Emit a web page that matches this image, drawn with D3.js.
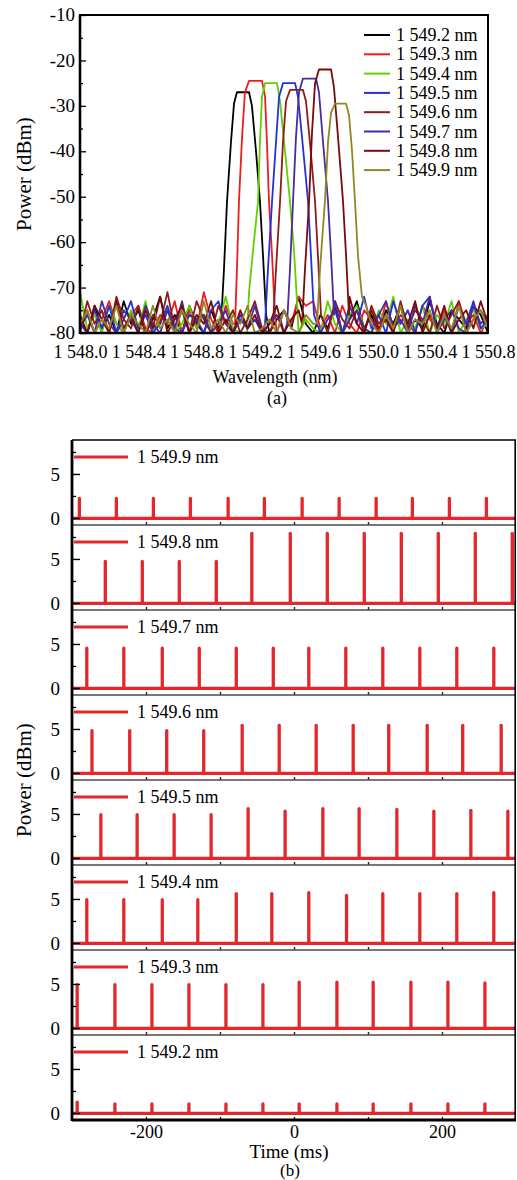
<!DOCTYPE html>
<html><head><meta charset="utf-8">
<script src="https://cdn.jsdelivr.net/npm/d3@7"></script>
<style>
html,body{margin:0;padding:0;background:#fff;}
svg text{font-family:"Liberation Serif","Times New Roman",serif;fill:#000;}
</style></head><body>
<svg id="c" width="517" height="1180"></svg>
<script>
// ---------- (a) spectra data ----------
const seriesNames = ["1 549.2 nm","1 549.3 nm","1 549.4 nm","1 549.5 nm","1 549.6 nm","1 549.7 nm","1 549.8 nm","1 549.9 nm"];
const xTickValues = [1548.0,1548.4,1548.8,1549.2,1549.6,1550.0,1550.4,1550.8];
const yTickValues = [-80,-70,-60,-50,-40,-30,-20,-10];

// peak shapes [wavelength nm, power dBm]
const peak92 = [[1548.968,-78],[1548.988,-66],[1549.009,-51],[1549.036,-38],[1549.057,-29.5],[1549.077,-27],[1549.160,-27],[1549.180,-30],[1549.208,-40],[1549.235,-51],[1549.256,-63],[1549.277,-76]];
const peak93 = [[1549.064,-78],[1549.077,-66],[1549.091,-51],[1549.112,-37],[1549.132,-27],[1549.160,-24.5],[1549.249,-24.5],[1549.270,-28],[1549.283,-38],[1549.297,-51],[1549.318,-63],[1549.338,-76]];
const peak94 = [[1549.146,-80],[1549.160,-71],[1549.187,-62],[1549.222,-51],[1549.235,-38],[1549.249,-28],[1549.270,-25],[1549.352,-25],[1549.373,-29],[1549.407,-40],[1549.441,-51],[1549.469,-62],[1549.489,-73]];
const peak95 = [[1549.270,-78],[1549.290,-66],[1549.318,-51],[1549.345,-38],[1549.366,-28],[1549.393,-25],[1549.476,-25],[1549.496,-28],[1549.524,-37],[1549.565,-51],[1549.585,-63],[1549.606,-76]];
const peak96 = [[1549.325,-78],[1549.345,-66],[1549.373,-51],[1549.393,-38],[1549.414,-29],[1549.441,-26.5],[1549.530,-26.5],[1549.551,-29],[1549.578,-38],[1549.613,-51],[1549.633,-63],[1549.654,-76]];
const peak97 = [[1549.421,-78],[1549.441,-66],[1549.462,-51],[1549.482,-37],[1549.503,-27],[1549.530,-24],[1549.620,-24],[1549.640,-27],[1549.668,-38],[1549.702,-51],[1549.723,-63],[1549.743,-76]];
const peak98 = [[1549.524,-78],[1549.544,-66],[1549.572,-51],[1549.592,-36],[1549.613,-25],[1549.640,-22],[1549.723,-22],[1549.743,-26],[1549.771,-37],[1549.805,-51],[1549.826,-63],[1549.846,-76]];
const peak99 = [[1549.627,-78],[1549.647,-66],[1549.681,-51],[1549.702,-38],[1549.723,-31.5],[1549.750,-29.5],[1549.826,-29.5],[1549.846,-32],[1549.867,-40],[1549.887,-51],[1549.908,-63],[1549.935,-72],[1549.963,-74]];

// noise floor readings, sampled every 0.05 nm from 1548.00 nm
const noise92 = [-77,-80,-74,-79,-76,-80,-73,-78,-75,-80,-77,-72,-79,-76,-80,-74,-78,-80,-75,-79,-73,-77,-80,-76,-78,-74,-80,-77,-75,-79,-72,-78,-80,-76,-79,-74,-80,-77,-73,-79,-76,-80,-75,-78,-74,-80,-77,-79,-73,-78,-80,-75,-77,-79,-74,-76,-80];
const noise93 = [-79,-75,-80,-77,-73,-78,-80,-76,-74,-79,-80,-76,-78,-73,-80,-75,-79,-71,-77,-80,-74,-78,-76,-80,-73,-79,-77,-80,-75,-78,-72,-74,-73,-79,-76,-80,-74,-78,-80,-75,-77,-80,-73,-79,-76,-78,-80,-74,-77,-79,-75,-80,-73,-78,-76,-80,-77];
const noise94 = [-71,-79,-76,-80,-74,-78,-80,-75,-79,-73,-80,-77,-75,-80,-78,-74,-79,-76,-80,-78,-72,-79,-80,-76,-78,-80,-77,-79,-80,-78,-80,-77,-79,-80,-73,-78,-80,-76,-74,-79,-80,-75,-78,-72,-80,-77,-79,-74,-80,-76,-78,-73,-80,-77,-75,-79,-78];
const noise95 = [-78,-80,-75,-79,-74,-80,-77,-73,-79,-76,-80,-78,-74,-79,-80,-76,-77,-80,-75,-73,-78,-80,-76,-79,-77,-80,-75,-78,-74,-80,-76,-79,-73,-80,-77,-75,-80,-74,-78,-72,-79,-76,-80,-73,-78,-75,-80,-74,-72,-79,-76,-80,-74,-78,-73,-79,-77];
const noise96 = [-80,-73,-78,-75,-80,-72,-77,-79,-74,-80,-76,-78,-71,-79,-75,-80,-73,-77,-80,-74,-78,-75,-80,-77,-73,-79,-80,-76,-78,-80,-75,-79,-74,-78,-80,-73,-77,-79,-75,-80,-74,-78,-76,-80,-73,-79,-75,-77,-80,-74,-79,-76,-73,-80,-77,-75,-78];
const noise97 = [-79,-76,-80,-73,-78,-80,-75,-77,-80,-74,-78,-80,-75,-79,-73,-80,-77,-76,-80,-78,-75,-80,-77,-79,-74,-80,-78,-76,-80,-77,-79,-74,-80,-76,-78,-73,-80,-77,-75,-79,-80,-76,-73,-79,-77,-80,-74,-78,-72,-80,-77,-75,-79,-80,-74,-78,-76];
const noise98 = [-76,-80,-74,-77,-80,-73,-79,-76,-80,-75,-79,-72,-80,-77,-74,-80,-76,-78,-73,-80,-77,-80,-75,-79,-76,-80,-78,-74,-80,-77,-75,-80,-78,-74,-79,-80,-76,-72,-78,-80,-75,-79,-77,-80,-74,-78,-73,-80,-76,-79,-74,-80,-77,-75,-79,-73,-78];
const noise99 = [-78,-75,-80,-77,-79,-74,-80,-76,-78,-80,-74,-79,-77,-80,-75,-78,-80,-73,-79,-77,-80,-76,-78,-74,-80,-79,-77,-80,-75,-79,-80,-76,-78,-80,-74,-79,-77,-80,-75,-73,-78,-80,-76,-79,-74,-80,-77,-78,-75,-80,-76,-79,-74,-80,-77,-75,-79];

const peaks = [peak92,peak93,peak94,peak95,peak96,peak97,peak98,peak99];
const noises = [noise92,noise93,noise94,noise95,noise96,noise97,noise98,noise99];
const seriesColors = ["#000000","#f01c1c","#5fd000","#2430d8","#8e1c1c","#4a2a9c","#7a0a0a","#908726"];

// ---------- (b) pulse trains, top panel first ----------
const panelNames = ["1 549.9 nm","1 549.8 nm","1 549.7 nm","1 549.6 nm","1 549.5 nm","1 549.4 nm","1 549.3 nm","1 549.2 nm"];
const times99 = [-290,-240,-190,-140,-89,-40,11,61,111,160,210,260];
const heights99 = [2.4,2.4,2.4,2.4,2.4,2.4,2.4,2.4,2.4,2.4,2.4,2.4];
const times98 = [-255,-205,-155,-105,-57,-5,45,95,145,195,245,295];
const heights98 = [4.9,4.9,4.9,4.9,8.1,8.1,8.1,8.1,8.1,8.1,8.1,8.1];
const times97 = [-280,-230,-178,-128,-78,-28,20,70,120,170,220,270];
const heights97 = [4.7,4.7,4.7,4.7,4.7,4.7,4.7,4.7,4.7,4.7,4.7,4.7];
const times96 = [-273,-222,-172,-122,-70,-20,30,80,128,180,228,280];
const heights96 = [5.0,5.0,5.0,5.0,5.6,5.6,5.6,5.6,5.6,5.6,5.6,5.6];
const times95 = [-261,-212,-162,-112,-62,-12,39,88,139,189,239,289];
const heights95 = [5.1,5.1,5.1,5.1,5.8,5.5,5.8,5.8,5.7,5.5,5.6,5.5];
const times94 = [-280,-230,-178,-130,-78,-30,20,71,120,170,220,270];
const heights94 = [5.1,5.1,5.1,5.1,5.8,5.8,5.9,5.6,5.8,5.8,5.8,5.9];
const times93 = [-293,-242,-192,-142,-92,-42,7,58,107,158,208,258];
const heights93 = [5.1,5.1,5.1,5.1,5.1,5.1,5.4,5.4,5.4,5.4,5.4,5.3];
const times92 = [-293,-242,-192,-142,-92,-42,7,58,107,158,208,258];
const heights92 = [1.4,1.2,1.2,1.2,1.2,1.2,1.2,1.2,1.2,1.2,1.2,1.2];
const panelTimes = [times99,times98,times97,times96,times95,times94,times93,times92];
const panelHeights = [heights99,heights98,heights97,heights96,heights95,heights94,heights93,heights92];
const timeTicks = [-200,0,200];
const timeMinorTicks = [-200,-100,0,100,200];
const panelTicks = [0,5];
const panelMinorTicks = [2.5,7.5];

// ================= drawing =================
const svg = d3.select("#c");
const FONT = 18;
const SERIF = "'Liberation Serif','Times New Roman',serif";
const loc = d3.formatLocale({decimal:".",thousands:" ",grouping:[3],currency:["",""],minus:"-"});
const fmtWl = loc.format(",.1f");
const fmtInt = loc.format("d");

// ---- panel (a) ----
const A = {l:80, t:15, r:488, b:333};
const xA = d3.scaleLinear().domain([1548.0,1550.8]).range([A.l,A.r]);
const yA = d3.scaleLinear().domain([-80,-10]).range([A.b,A.t]);

svg.append("clipPath").attr("id","clipA").append("rect")
  .attr("x",A.l).attr("y",A.t).attr("width",A.r-A.l).attr("height",A.b-A.t);

const lineA = d3.line().x(d=>xA(d[0])).y(d=>yA(d[1]));
const gA = svg.append("g").attr("clip-path","url(#clipA)");
peaks.forEach((pk,s)=>{
  const lo = pk[0][0], hi = pk[pk.length-1][0];
  const nz = noises[s].map((v,i)=>[1548.0+i*0.05, v]).filter(p=>p[0]<lo||p[0]>hi);
  const pts = nz.concat(pk).sort((a,b)=>a[0]-b[0]);
  gA.append("path").attr("d",lineA(pts)).attr("fill","none")
    .attr("stroke",seriesColors[s]).attr("stroke-width",1.8)
    .attr("stroke-linejoin","round");
});

function styleAxis(g, fs){
  g.select(".domain").remove();
  g.selectAll("line").attr("stroke","#000").attr("stroke-width",1.3);
  g.selectAll("text").style("font-size",fs+"px").style("font-family",SERIF).attr("fill","#000");
}

// axes (a)
const axLA = svg.append("g").attr("transform",`translate(${A.l},0)`)
  .call(d3.axisLeft(yA).tickValues(yTickValues).tickSize(-6).tickPadding(5).tickFormat(fmtInt));
const axLAm = svg.append("g").attr("transform",`translate(${A.l},0)`)
  .call(d3.axisLeft(yA).tickValues(d3.range(-75,-10,10)).tickSize(-3).tickFormat(""));
const axBA = svg.append("g").attr("transform",`translate(0,${A.b})`)
  .call(d3.axisBottom(xA).tickValues(xTickValues).tickSize(0).tickPadding(12).tickFormat(d=>fmtWl(d)));
styleAxis(axLA,19); styleAxis(axLAm,19); styleAxis(axBA,18);
axLA.selectAll("text").attr("dy","0.3em");
svg.append("rect").attr("x",A.l).attr("y",A.t).attr("width",A.r-A.l).attr("height",A.b-A.t)
  .attr("fill","none").attr("stroke","#000").attr("stroke-width",2);
svg.append("line").attr("x1",A.l).attr("x2",A.l).attr("y1",A.t).attr("y2",A.b+1).attr("stroke","#000").attr("stroke-width",2.6);
svg.append("line").attr("x1",A.l).attr("x2",A.r).attr("y1",A.b).attr("y2",A.b).attr("stroke","#000").attr("stroke-width",2.6);

// legend (a)
seriesNames.forEach((n,i)=>{
  const yy = 35 + i*19.3;
  svg.append("line").attr("x1",364).attr("x2",390).attr("y1",yy).attr("y2",yy)
    .attr("stroke",seriesColors[i]).attr("stroke-width",2);
  svg.append("text").attr("x",396).attr("y",yy+6).style("font-size",FONT+"px").text(n);
});

// titles (a)
svg.append("text").attr("transform","translate(31,174) rotate(-90)").attr("text-anchor","middle")
  .style("font-size","21px").text("Power (dBm)");
svg.append("text").attr("x",275).attr("y",383).attr("text-anchor","middle")
  .style("font-size",FONT+"px").text("Wavelength (nm)");
svg.append("text").attr("x",277).attr("y",404).attr("text-anchor","middle")
  .style("font-size",FONT+"px").text("(a)");

// ---- panel (b) ----
const B = {l:72, r:516, t:440, h:85};
const xB = d3.scaleLinear().domain([-300,300]).range([B.l,B.r]);
const RED = "#e3272a";
svg.append("clipPath").attr("id","clipB").append("rect")
  .attr("x",B.l).attr("y",B.t).attr("width",B.r-B.l).attr("height",B.h*8);
const gB = svg.append("g").attr("clip-path","url(#clipB)");

panelNames.forEach((name,i)=>{
  const top = B.t + i*B.h;
  const yB = d3.scaleLinear().domain([-0.8,8.86]).range([top+B.h, top]);
  if(i>0) svg.append("line").attr("x1",B.l).attr("x2",B.r).attr("y1",top).attr("y2",top)
    .attr("stroke","#4a4a4a").attr("stroke-width",1.3);
  gB.append("line").attr("x1",xB(-300)).attr("x2",xB(300)).attr("y1",yB(-0.05)).attr("y2",yB(-0.05))
    .attr("stroke",RED).attr("stroke-width",3.4);
  panelTimes[i].forEach((t,k)=>{
    gB.append("line").attr("x1",xB(t)).attr("x2",xB(t))
      .attr("y1",yB(0)).attr("y2",yB(panelHeights[i][k])+1.6)
      .attr("stroke",RED).attr("stroke-width",3.3).attr("stroke-linecap","round");
  });
  const axm = svg.append("g").attr("transform",`translate(0,${top+B.h})`)
    .call(d3.axisBottom(xB).tickValues(timeMinorTicks).tickSize(-3).tickFormat(""));
  axm.select(".domain").remove();
  axm.selectAll("line").attr("stroke","#222").attr("stroke-width",1.4);
  const axl = svg.append("g").attr("transform",`translate(${B.l},0)`)
    .call(d3.axisLeft(yB).tickValues(panelTicks).tickSize(-8).tickPadding(12).tickFormat(fmtInt));
  const axlm = svg.append("g").attr("transform",`translate(${B.l},0)`)
    .call(d3.axisLeft(yB).tickValues(panelMinorTicks).tickSize(-4).tickFormat(""));
  styleAxis(axl,19); styleAxis(axlm,19);
  axl.selectAll("line").attr("stroke-width",1.4);
  svg.append("line").attr("x1",74).attr("x2",128).attr("y1",top+17).attr("y2",top+17)
    .attr("stroke",RED).attr("stroke-width",3);
  svg.append("text").attr("x",137).attr("y",top+23).style("font-size",FONT+"px").text(name);
});

// frame (b)
svg.append("line").attr("x1",B.l).attr("x2",B.r).attr("y1",B.t).attr("y2",B.t).attr("stroke","#000").attr("stroke-width",1.6);
svg.append("line").attr("x1",B.r-0.8).attr("x2",B.r-0.8).attr("y1",B.t).attr("y2",B.t+8*B.h).attr("stroke","#000").attr("stroke-width",1.6);
svg.append("line").attr("x1",B.l).attr("x2",B.l).attr("y1",B.t).attr("y2",B.t+8*B.h+1).attr("stroke","#000").attr("stroke-width",2.8);
svg.append("line").attr("x1",B.l).attr("x2",B.r).attr("y1",B.t+8*B.h).attr("y2",B.t+8*B.h).attr("stroke","#000").attr("stroke-width",2.8);

const axBB = svg.append("g").attr("transform",`translate(0,${B.t+8*B.h})`)
  .call(d3.axisBottom(xB).tickValues(timeTicks).tickSize(0).tickPadding(5).tickFormat(fmtInt));
styleAxis(axBB,18);

svg.append("text").attr("transform","translate(31,780) rotate(-90)").attr("text-anchor","middle")
  .style("font-size","21px").text("Power (dBm)");
svg.append("text").attr("x",289).attr("y",1158).attr("text-anchor","middle")
  .style("font-size","19px").text("Time (ms)");
svg.append("text").attr("x",290).attr("y",1176).attr("text-anchor","middle")
  .style("font-size","17px").text("(b)");
</script>
</body></html>
